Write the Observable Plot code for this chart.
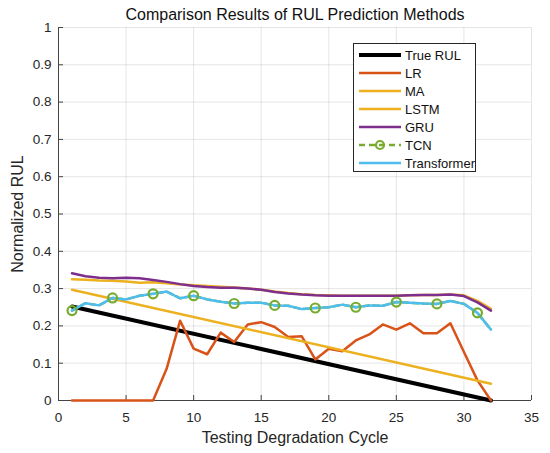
<!DOCTYPE html>
<html>
<head>
<meta charset="utf-8">
<script src="https://cdn.jsdelivr.net/npm/d3@7"></script>
<script src="https://cdn.jsdelivr.net/npm/@observablehq/plot@0.6"></script>
<style>
  body { margin: 0; background: #fff; font-family: "Liberation Sans", Arial, sans-serif; }
  #wrap { position: relative; width: 550px; height: 453px; }
  #legend { position: absolute; left: 353px; top: 43px; width: 123px; height: 129px;
    border: 1px solid #262626; background: #fff; box-sizing: border-box; padding-top: 2px; }
  .item { display: flex; align-items: center; height: 18px; font-size: 13px; color: #111; }
  .item svg { margin-left: 4px; margin-right: 3px; }
</style>
</head>
<body>
<div id="wrap"><div id="chart"></div><div id="legend"></div></div>
<script>
const cycles = [1,2,3,4,5,6,7,8,9,10,11,12,13,14,15,16,17,18,19,20,21,22,23,24,25,26,27,28,29,30,31,32];
const trueX = [1, 32];
const trueRUL = [0.252, 0];
const maX = [1, 32];
const ma = [0.297, 0.045];
const lr = [0,0,0,0,0,0,0,0.085,0.214,0.139,0.124,0.182,0.157,0.204,0.21,0.197,0.17,0.172,0.11,0.139,0.132,0.161,0.177,0.204,0.19,0.207,0.18,0.18,0.207,0.13,0.054,0];
const lstm = [0.325,0.324,0.322,0.321,0.319,0.316,0.317,0.314,0.311,0.309,0.307,0.305,0.303,0.300,0.297,0.292,0.288,0.285,0.283,0.282,0.281,0.281,0.281,0.281,0.281,0.282,0.283,0.283,0.284,0.282,0.267,0.246];
const gru = [0.341,0.333,0.329,0.328,0.329,0.328,0.323,0.318,0.312,0.307,0.304,0.302,0.302,0.300,0.297,0.291,0.287,0.284,0.282,0.281,0.281,0.281,0.281,0.281,0.281,0.282,0.283,0.283,0.284,0.280,0.263,0.241];
const transformer = [0.241,0.261,0.255,0.275,0.271,0.281,0.286,0.292,0.274,0.281,0.271,0.265,0.26,0.262,0.262,0.255,0.254,0.245,0.248,0.25,0.257,0.25,0.255,0.254,0.264,0.262,0.26,0.259,0.267,0.259,0.235,0.19];
const tcn = [0.241,0.261,0.255,0.275,0.271,0.281,0.286,0.292,0.274,0.281,0.271,0.265,0.26,0.262,0.262,0.255,0.254,0.245,0.248,0.25,0.257,0.25,0.255,0.254,0.264,0.262,0.26,0.259,0.267,0.259,0.235,0.19];
const xTicks = [0,5,10,15,20,25,30,35];
const yTicks = [0,0.1,0.2,0.3,0.4,0.5,0.6,0.7,0.8,0.9,1];
const yTickLabels = ["0","0.1","0.2","0.3","0.4","0.5","0.6","0.7","0.8","0.9","1"];

const series = [
  {name: "True RUL", color: "#000000", width: 4},
  {name: "LR", color: "#D95319", width: 2.5},
  {name: "MA", color: "#EDB120", width: 2.5},
  {name: "LSTM", color: "#EDB120", width: 2.5},
  {name: "GRU", color: "#7E2F8E", width: 2.5},
  {name: "TCN", color: "#77AC30", width: 2.5, dash: "6,4", marker: true},
  {name: "Transformer", color: "#4DBEEE", width: 2.5}
];

const rowsOf = (xs, ys) => xs.map((x, i) => ({x, y: ys[i]}));
const trueRows = rowsOf(trueX, trueRUL);
const maRows = rowsOf(maX, ma);
const lrRows = rowsOf(cycles, lr);
const lstmRows = rowsOf(cycles, lstm);
const gruRows = rowsOf(cycles, gru);
const trRows = rowsOf(cycles, transformer);
const tcnRows = rowsOf(cycles, tcn);
const tcnMarkers = tcnRows.filter((d, i) => i % 3 === 0);

const font = "Liberation Sans, Arial, sans-serif";
const plot = Plot.plot({
  width: 550, height: 453,
  marginLeft: 58, marginRight: 19, marginTop: 27, marginBottom: 53,
  style: {fontFamily: font, fontSize: "13px", color: "#262626", background: "#fff"},
  x: {domain: [0, 35], ticks: xTicks},
  y: {domain: [0, 1], ticks: yTicks},
  marks: [
    Plot.gridX(xTicks, {stroke: "#000", strokeOpacity: 0.1, strokeWidth: 1}),
    Plot.gridY(yTicks, {stroke: "#000", strokeOpacity: 0.1, strokeWidth: 1}),
    Plot.axisX({ticks: xTicks, tickSize: -5, tickPadding: 17, stroke: "#444", fontSize: 13.5, label: null}),
    Plot.axisY({ticks: yTicks, tickSize: -5, tickPadding: 12, stroke: "#444", fontSize: 13.5, label: null,
      tickFormat: (d) => yTickLabels[yTicks.indexOf(d)]}),
    Plot.ruleX([0], {stroke: "#444", strokeWidth: 1}),
    Plot.ruleY([0], {stroke: "#444", strokeWidth: 1}),
    Plot.line(trueRows, {x: "x", y: "y", stroke: "#000", strokeWidth: 4}),
    Plot.line(lrRows, {x: "x", y: "y", stroke: "#D95319", strokeWidth: 2.5}),
    Plot.line(maRows, {x: "x", y: "y", stroke: "#EDB120", strokeWidth: 2.5}),
    Plot.line(lstmRows, {x: "x", y: "y", stroke: "#EDB120", strokeWidth: 2.5}),
    Plot.line(gruRows, {x: "x", y: "y", stroke: "#7E2F8E", strokeWidth: 2.5}),
    Plot.line(tcnRows, {x: "x", y: "y", stroke: "#77AC30", strokeWidth: 2.5, strokeDasharray: "6,4"}),
    Plot.line(trRows, {x: "x", y: "y", stroke: "#4DBEEE", strokeWidth: 2.5}),
    Plot.dot(tcnMarkers, {x: "x", y: "y", r: 4.5, stroke: "#77AC30", strokeWidth: 2.2, fill: "none"}),
    Plot.text(["Comparison Results of RUL Prediction Methods"], {frameAnchor: "top", lineAnchor: "middle", dy: -13, fontSize: 16, fill: "#111", fontFamily: font}),
    Plot.text(["Testing Degradation Cycle"], {frameAnchor: "bottom", lineAnchor: "middle", dy: 37, fontSize: 16, fill: "#262626", fontFamily: font}),
    Plot.text(["Normalized RUL"], {frameAnchor: "left", textAnchor: "middle", lineAnchor: "middle", dx: -40.5, rotate: -90, fontSize: 16, fill: "#262626", fontFamily: font})
  ]
});
document.getElementById("chart").appendChild(plot);

const legend = document.getElementById("legend");
series.forEach(s => {
  const item = document.createElement("div");
  item.className = "item";
  const sw = d3.create("svg").attr("width", 44).attr("height", 12);
  sw.append("line").attr("x1", 1).attr("x2", 43).attr("y1", 6).attr("y2", 6)
    .attr("stroke", s.color).attr("stroke-width", s.width)
    .attr("stroke-dasharray", s.dash || null);
  if (s.marker) sw.append("circle").attr("cx", 22).attr("cy", 6).attr("r", 4)
    .attr("fill", "none").attr("stroke", s.color).attr("stroke-width", 2.2);
  item.appendChild(sw.node());
  const t = document.createElement("span");
  t.textContent = s.name;
  item.appendChild(t);
  legend.appendChild(item);
});
</script>
</body>
</html>
